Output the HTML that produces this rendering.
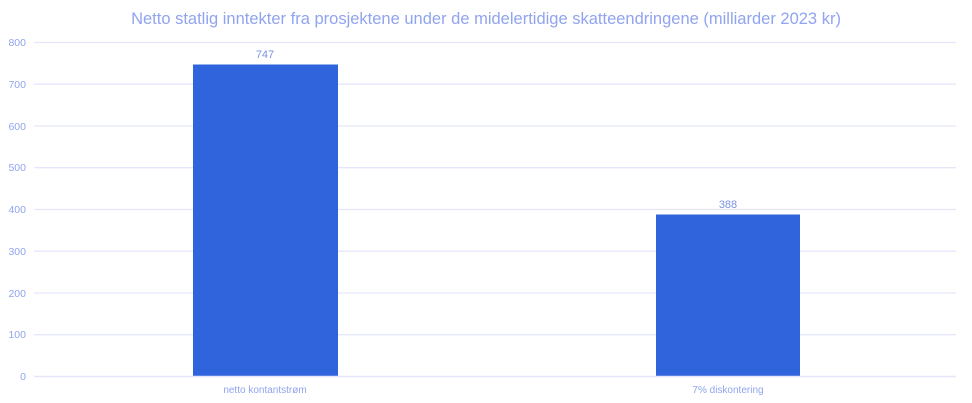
<!DOCTYPE html>
<html><head><style>
body{margin:0;background:#fff;}
svg{display:block;font-family:"Liberation Sans",sans-serif;}
</style></head><body>
<svg width="972" height="403" viewBox="0 0 972 403">
<text x="486" y="24" text-anchor="middle" font-size="16.5" fill="#90a4f0">Netto statlig inntekter fra prosjektene under de midelertidige skatteendringene (milliarder 2023 kr)</text>
<g stroke="#e4e6fb" stroke-width="1.3">
<line x1="34" x2="956" y1="42.5" y2="42.5"/>
<line x1="34" x2="956" y1="84.2" y2="84.2"/>
<line x1="34" x2="956" y1="126" y2="126"/>
<line x1="34" x2="956" y1="167.7" y2="167.7"/>
<line x1="34" x2="956" y1="209.5" y2="209.5"/>
<line x1="34" x2="956" y1="251.2" y2="251.2"/>
<line x1="34" x2="956" y1="293" y2="293"/>
<line x1="34" x2="956" y1="334.7" y2="334.7"/>
</g>
<g font-size="10.5" fill="#90a4f0" text-anchor="end">
<text x="26" y="46">800</text><text x="26" y="88">700</text><text x="26" y="130">600</text>
<text x="26" y="171">500</text><text x="26" y="213">400</text><text x="26" y="255">300</text>
<text x="26" y="297">200</text><text x="26" y="338">100</text><text x="26" y="380">0</text>
</g>
<rect x="193" y="64.5" width="145" height="312" fill="#3064dc"/>
<rect x="656" y="214.5" width="144" height="162" fill="#3064dc"/>
<line x1="34" x2="956" y1="376.5" y2="376.5" stroke="#e4e6fb" stroke-width="1.5"/>
<g font-size="11" fill="#7d93e0" text-anchor="middle">
<text x="265" y="58">747</text><text x="728" y="208">388</text>
</g>
<g font-size="10" fill="#90a4f0" text-anchor="middle">
<text x="265" y="393">netto kontantstrøm</text><text x="728" y="393">7% diskontering</text>
</g>
</svg>
</body></html>
